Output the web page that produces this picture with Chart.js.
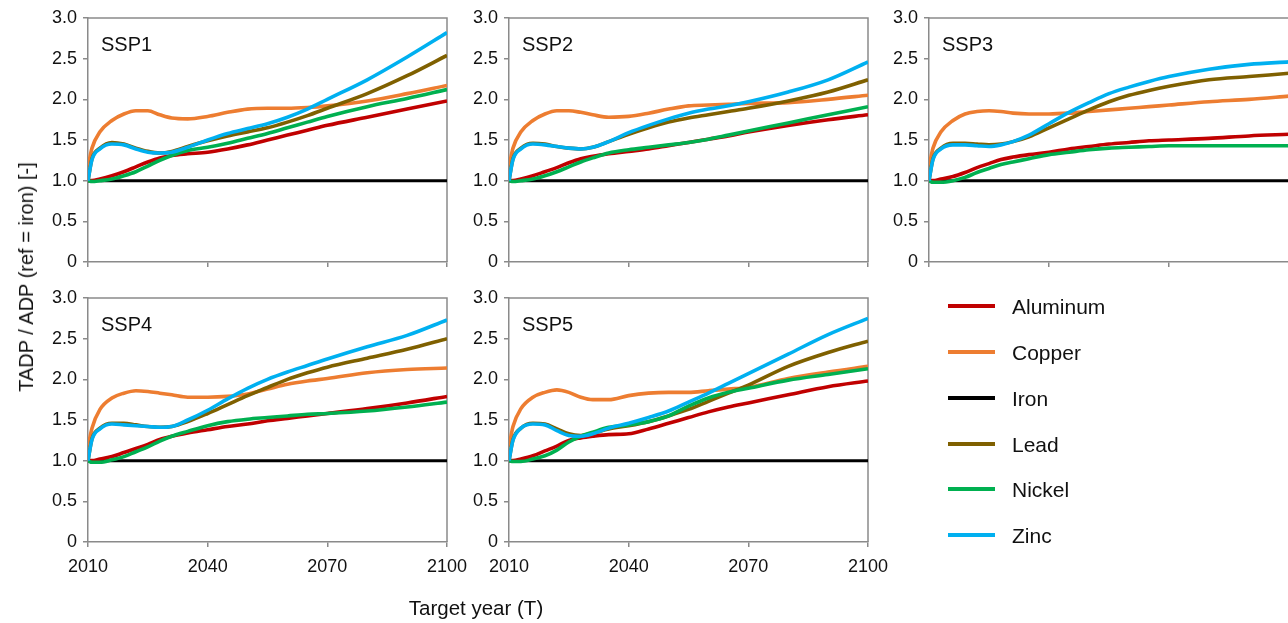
<!DOCTYPE html>
<html><head><meta charset="utf-8">
<script src="https://cdn.jsdelivr.net/npm/chart.js@4/dist/chart.umd.min.js"></script>
<style>
html,body{margin:0;padding:0;background:#fff;overflow:hidden;width:1288px;height:623px;position:relative;}
canvas{position:absolute;left:0;top:0;}
.t{position:absolute;font-family:"Liberation Sans",Arial,sans-serif;color:#111;white-space:nowrap;line-height:1;}
.sw{position:absolute;height:4px;width:47px;}
</style></head><body>
<div id="wrap"></div>
<script>
// ---------- data ----------
const years = [2010, 2011, 2013, 2016, 2019, 2022, 2025, 2028, 2031, 2035, 2040, 2045, 2050, 2055, 2060, 2065, 2070, 2080, 2090, 2100];
const metals = ['Aluminum', 'Copper', 'Iron', 'Lead', 'Nickel', 'Zinc'];
const metalColors = ['#C00000', '#ED7D31', '#000000', '#7F6000', '#00B050', '#00B0F0'];
const scenarios = ['SSP1', 'SSP2', 'SSP3', 'SSP4', 'SSP5'];
const xTickValues = [2010, 2040, 2070, 2100];
const yTickValues = [0, 0.5, 1.0, 1.5, 2.0, 2.5, 3.0];

const iron = [1, 1, 1, 1, 1, 1, 1, 1, 1, 1, 1, 1, 1, 1, 1, 1, 1, 1, 1, 1];

const ssp1Aluminum = [1.00, 1.00, 1.02, 1.06, 1.11, 1.17, 1.23, 1.28, 1.31, 1.33, 1.35, 1.39, 1.44, 1.50, 1.56, 1.62, 1.68, 1.78, 1.88, 1.98];
const ssp1Copper   = [1.17, 1.40, 1.60, 1.74, 1.82, 1.86, 1.86, 1.81, 1.77, 1.76, 1.79, 1.84, 1.88, 1.89, 1.89, 1.90, 1.92, 1.98, 2.07, 2.17];
const ssp1Lead     = [1.00, 1.27, 1.40, 1.47, 1.45, 1.40, 1.36, 1.34, 1.36, 1.42, 1.49, 1.55, 1.60, 1.65, 1.72, 1.80, 1.89, 2.07, 2.29, 2.54];
const ssp1Nickel   = [1.00, 0.99, 1.00, 1.02, 1.06, 1.11, 1.18, 1.25, 1.31, 1.37, 1.41, 1.46, 1.52, 1.58, 1.65, 1.72, 1.79, 1.91, 2.01, 2.12];
const ssp1Zinc     = [1.00, 1.26, 1.39, 1.45, 1.44, 1.39, 1.35, 1.34, 1.35, 1.41, 1.50, 1.58, 1.64, 1.70, 1.78, 1.88, 2.00, 2.24, 2.52, 2.82];

const ssp2Aluminum = [1.00, 1.00, 1.02, 1.06, 1.11, 1.16, 1.22, 1.27, 1.30, 1.33, 1.36, 1.39, 1.43, 1.47, 1.51, 1.55, 1.60, 1.68, 1.75, 1.81];
const ssp2Copper   = [1.17, 1.40, 1.60, 1.74, 1.82, 1.86, 1.86, 1.84, 1.81, 1.78, 1.79, 1.83, 1.88, 1.92, 1.93, 1.94, 1.95, 1.96, 2.00, 2.05];
const ssp2Lead     = [1.00, 1.27, 1.40, 1.46, 1.45, 1.42, 1.40, 1.39, 1.41, 1.48, 1.57, 1.65, 1.72, 1.77, 1.81, 1.85, 1.89, 1.98, 2.09, 2.24];
const ssp2Nickel   = [1.00, 0.99, 1.00, 1.02, 1.06, 1.11, 1.17, 1.23, 1.28, 1.34, 1.38, 1.41, 1.44, 1.47, 1.51, 1.56, 1.61, 1.71, 1.81, 1.91];
const ssp2Zinc     = [1.00, 1.26, 1.39, 1.45, 1.44, 1.42, 1.40, 1.39, 1.41, 1.48, 1.59, 1.68, 1.76, 1.83, 1.88, 1.92, 1.97, 2.09, 2.24, 2.46];

const ssp3Aluminum = [1.00, 1.00, 1.02, 1.05, 1.10, 1.16, 1.21, 1.26, 1.29, 1.32, 1.35, 1.39, 1.42, 1.45, 1.47, 1.49, 1.50, 1.52, 1.55, 1.57];
const ssp3Copper   = [1.17, 1.40, 1.60, 1.74, 1.82, 1.85, 1.86, 1.85, 1.83, 1.82, 1.82, 1.83, 1.85, 1.87, 1.89, 1.91, 1.93, 1.97, 2.00, 2.04];
const ssp3Lead     = [1.00, 1.27, 1.40, 1.46, 1.46, 1.45, 1.44, 1.45, 1.48, 1.54, 1.65, 1.76, 1.87, 1.97, 2.05, 2.11, 2.16, 2.24, 2.28, 2.32];
const ssp3Nickel   = [1.00, 0.98, 0.98, 1.00, 1.04, 1.10, 1.15, 1.20, 1.23, 1.27, 1.32, 1.35, 1.38, 1.40, 1.41, 1.42, 1.43, 1.43, 1.43, 1.43];
const ssp3Zinc     = [1.00, 1.26, 1.39, 1.44, 1.44, 1.43, 1.42, 1.44, 1.48, 1.56, 1.70, 1.84, 1.96, 2.07, 2.15, 2.22, 2.28, 2.37, 2.43, 2.46];

const ssp4Aluminum = [1.00, 1.00, 1.02, 1.05, 1.10, 1.15, 1.20, 1.26, 1.30, 1.34, 1.38, 1.42, 1.45, 1.49, 1.52, 1.55, 1.58, 1.64, 1.71, 1.79];
const ssp4Copper   = [1.17, 1.40, 1.63, 1.77, 1.83, 1.86, 1.85, 1.83, 1.81, 1.78, 1.78, 1.79, 1.82, 1.88, 1.94, 1.98, 2.01, 2.08, 2.12, 2.14];
const ssp4Lead     = [1.00, 1.27, 1.40, 1.46, 1.46, 1.44, 1.42, 1.41, 1.42, 1.48, 1.58, 1.69, 1.80, 1.90, 2.00, 2.08, 2.15, 2.26, 2.37, 2.50];
const ssp4Nickel   = [1.00, 0.98, 0.98, 1.01, 1.05, 1.11, 1.17, 1.24, 1.30, 1.36, 1.43, 1.48, 1.51, 1.53, 1.55, 1.57, 1.58, 1.61, 1.66, 1.72];
const ssp4Zinc     = [1.00, 1.26, 1.39, 1.45, 1.44, 1.43, 1.42, 1.41, 1.42, 1.50, 1.62, 1.76, 1.89, 2.00, 2.09, 2.17, 2.25, 2.40, 2.54, 2.73];

const ssp5Aluminum = [1.00, 1.00, 1.02, 1.06, 1.12, 1.18, 1.25, 1.28, 1.30, 1.32, 1.33, 1.39, 1.46, 1.53, 1.60, 1.66, 1.71, 1.81, 1.91, 1.98];
const ssp5Copper   = [1.17, 1.42, 1.64, 1.78, 1.84, 1.87, 1.84, 1.78, 1.75, 1.75, 1.80, 1.83, 1.84, 1.84, 1.86, 1.88, 1.90, 2.01, 2.09, 2.16];
const ssp5Lead     = [1.00, 1.26, 1.40, 1.46, 1.45, 1.39, 1.33, 1.31, 1.34, 1.39, 1.43, 1.48, 1.55, 1.63, 1.73, 1.83, 1.93, 2.16, 2.33, 2.47];
const ssp5Nickel   = [1.00, 0.99, 0.99, 1.02, 1.06, 1.13, 1.23, 1.30, 1.35, 1.41, 1.44, 1.48, 1.55, 1.67, 1.77, 1.84, 1.89, 1.99, 2.06, 2.13];
const ssp5Zinc     = [1.00, 1.25, 1.40, 1.45, 1.44, 1.37, 1.31, 1.30, 1.33, 1.40, 1.46, 1.53, 1.61, 1.72, 1.83, 1.95, 2.07, 2.31, 2.55, 2.75];

const scenarioSeries = [
  [ssp1Aluminum, ssp1Copper, iron, ssp1Lead, ssp1Nickel, ssp1Zinc],
  [ssp2Aluminum, ssp2Copper, iron, ssp2Lead, ssp2Nickel, ssp2Zinc],
  [ssp3Aluminum, ssp3Copper, iron, ssp3Lead, ssp3Nickel, ssp3Zinc],
  [ssp4Aluminum, ssp4Copper, iron, ssp4Lead, ssp4Nickel, ssp4Zinc],
  [ssp5Aluminum, ssp5Copper, iron, ssp5Lead, ssp5Nickel, ssp5Zinc]
];

// ---------- layout ----------
const CW = 1300, CH = 623;
const panels = [
  {L: 88,  R: 447,  T: 18,  B: 262, xLabels: false},
  {L: 509, R: 868,  T: 18,  B: 262, xLabels: false},
  {L: 929, R: 1289, T: 18,  B: 262, xLabels: false},
  {L: 88,  R: 447,  T: 298, B: 542, xLabels: true},
  {L: 509, R: 868,  T: 298, B: 542, xLabels: true}
];
const drawOrder = [5, 4, 6, 3, 2, 1];
const YW = 45, XH = 40;
const FONT = '"Liberation Sans", Arial, sans-serif';
const AXIS = '#8a8a8a';

const framePlugin = {
  id: 'frame',
  beforeDatasetsDraw(chart) {
    const a = chart.chartArea, c = chart.ctx;
    c.save();
    c.strokeStyle = AXIS; c.lineWidth = 1.5;
    c.beginPath();
    c.moveTo(a.left, a.top); c.lineTo(a.right, a.top); c.lineTo(a.right, a.bottom);
    c.stroke();
    c.restore();
  }
};

const wrap = document.getElementById('wrap');
panels.forEach((p, i) => {
  const cv = document.createElement('canvas');
  cv.width = CW; cv.height = CH;
  cv.style.width = CW + 'px'; cv.style.height = CH + 'px';
  wrap.appendChild(cv);
  const datasets = metals.map((m, k) => ({
    label: m,
    data: years.map((yr, j) => ({x: yr, y: scenarioSeries[i][k][j]})),
    borderColor: metalColors[k],
    borderWidth: k === 2 ? 3 : 3.6,
    pointRadius: 0,
    fill: false,
    cubicInterpolationMode: 'monotone',
    order: drawOrder[k]
  }));
  new Chart(cv, {
    type: 'line',
    data: {datasets},
    plugins: [framePlugin],
    options: {
      responsive: false, animation: false, events: [],
      devicePixelRatio: 1,
      layout: {padding: {left: p.L - YW, right: CW - p.R, top: p.T, bottom: CH - p.B - XH}},
      plugins: {legend: {display: false}, tooltip: {enabled: false}, title: {display: false}},
      scales: {
        x: {
          type: 'linear', min: 2010, max: 2100,
          afterBuildTicks: s => { s.ticks = xTickValues.map(v => ({value: v})); },
          afterFit: s => { s.height = XH; },
          grid: {drawOnChartArea: false, drawTicks: true, tickLength: 5, color: AXIS, lineWidth: 1.5},
          border: {display: true, color: AXIS, width: 1.5},
          ticks: {
            maxRotation: 0, autoSkip: false, padding: 9, color: '#111',
            font: {family: FONT, size: 18},
            callback: v => p.xLabels ? String(v) : ''
          }
        },
        y: {
          type: 'linear', min: 0, max: 3,
          afterBuildTicks: s => { s.ticks = yTickValues.map(v => ({value: v})); },
          afterFit: s => { s.width = YW; },
          grid: {drawOnChartArea: false, drawTicks: true, tickLength: 5, color: AXIS, lineWidth: 1.5},
          border: {display: true, color: AXIS, width: 1.5},
          ticks: {
            padding: 6, color: '#111', font: {family: FONT, size: 18},
            callback: v => v === 0 ? '0' : Number(v).toFixed(1)
          }
        }
      }
    }
  });
  const lab = document.createElement('div');
  lab.className = 't';
  lab.style.fontSize = '20px';
  lab.style.left = (p.L + 13) + 'px';
  lab.style.top = (p.T + 16) + 'px';
  lab.textContent = scenarios[i];
  wrap.appendChild(lab);
});

// axis titles
const yt = document.createElement('div');
yt.className = 't'; yt.style.fontSize = '20px';
yt.style.left = '26px'; yt.style.top = '277px';
yt.style.transform = 'translate(-50%,-50%) rotate(-90deg)';
yt.textContent = 'TADP / ADP (ref = iron) [-]';
wrap.appendChild(yt);
const xt = document.createElement('div');
xt.className = 't'; xt.style.fontSize = '20.5px';
xt.style.left = '476px'; xt.style.top = '598px';
xt.style.transform = 'translateX(-50%)';
xt.textContent = 'Target year (T)';
wrap.appendChild(xt);

// legend
const legendY = [306, 352, 398, 444, 489, 535];
metals.forEach((m, k) => {
  const sw = document.createElement('div');
  sw.className = 'sw';
  sw.style.left = '948px'; sw.style.top = (legendY[k] - 2) + 'px';
  sw.style.background = metalColors[k];
  wrap.appendChild(sw);
  const tx = document.createElement('div');
  tx.className = 't'; tx.style.fontSize = '21px';
  tx.style.left = '1012px'; tx.style.top = (legendY[k] - 10) + 'px';
  tx.textContent = m;
  wrap.appendChild(tx);
});
</script>
</body></html>
